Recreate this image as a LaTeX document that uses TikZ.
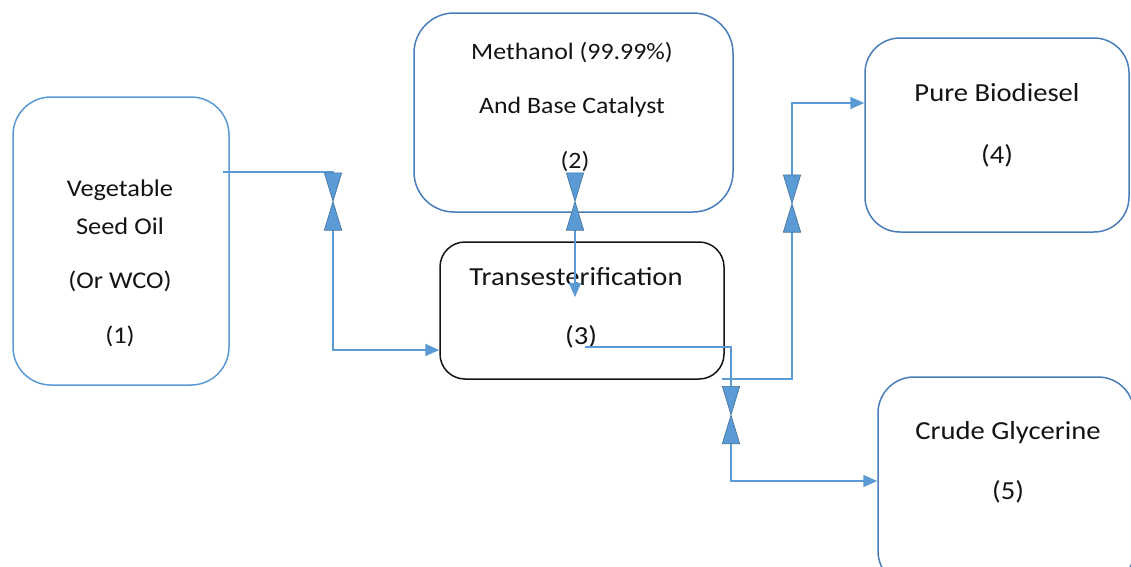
\documentclass[tikz,border=0pt]{standalone}
\usepackage{fontspec}
\setmainfont{Carlito}[FakeStretch=1.1]
\usetikzlibrary{arrows.meta}
\definecolor{pipeblue}{HTML}{5B9BD5}
\definecolor{boxblue}{HTML}{4A7EBB}
\definecolor{feedblue}{HTML}{5B9BD5}
\definecolor{valvefill}{HTML}{5B9BD5}
\definecolor{valveedge}{HTML}{41719C}
\definecolor{ink}{HTML}{141414}
\tikzset{
  unit/.style={draw=boxblue, line width=1.5pt, fill=white, inner sep=0pt},
  pipe/.style={draw=pipeblue, line width=1.5pt},
  flow/.style={pipe, -{Triangle[length=14pt,width=12pt]}},
  valvebox/.style={rectangle, inner sep=0pt, minimum width=17pt, minimum height=57pt},
  valve/.style={fill=valvefill, draw=valveedge, line width=0.6pt, line join=miter},
  lbl/.style={text=ink, inner sep=0pt},
  small/.style={lbl, font=\fontsize{24}{28}\selectfont},
  mid/.style={lbl, font=\fontsize{23.5}{28}\selectfont},
  large/.style={lbl, font=\fontsize{26}{30}\selectfont},
}
\begin{document}
\begin{tikzpicture}[x=1pt,y=-1pt]
\clip (0,0) rectangle (1131,566);
\fill[white] (0,0) rectangle (1131,566);

% process units
\node[unit, draw=feedblue, rounded corners=38pt, minimum width=216pt, minimum height=288pt] (b1) at (121,241) {};
\node[unit, rounded corners=40pt, minimum width=319pt, minimum height=199pt] (b2) at (573.5,112.5) {};
\node[unit, draw=ink, rounded corners=25pt, minimum width=284pt, minimum height=137pt] (b3) at (582,310.5) {};
\node[unit, rounded corners=35pt, minimum width=264pt, minimum height=194pt] (b4) at (997,135) {};
\node[unit, rounded corners=36pt, minimum width=256pt, minimum height=210pt] (b5) at (1006,482) {};

% labels
\node[small] (t1a) at (120,190) {Vegetable};
\node[small] (t1b) at (120,226) {Seed Oil};
\node[small] (t1c) at (120,281) {(Or WCO)};
\node[small] (t1d) at (120,336) {(1)};
\node[mid] (t2a) at (572,53) {Methanol (99.99\%)};
\node[mid] (t2b) at (572,107) {And Base Catalyst};
\node[mid] (t2c) at (575,162) {(2)};
\node[large] (t3a) at (576,277) {Transesterification};
\node[large] (t3b) at (581,337) {(3)};
\node[large] (t4a) at (997,93) {Pure Biodiesel};
\node[large] (t4b) at (997,156) {(4)};
\node[large] (t5a) at (1008,433) {Crude Glycerine};
\node[large] (t5b) at (1008,492) {(5)};

% valves
\node[valvebox] (v1) at (333,201.5) {};
\node[valvebox] (v2) at (575,201.5) {};
\node[valvebox] (v3) at (792,203.5) {};
\node[valvebox] (v4) at (731,415) {};

% pipe ends
\coordinate (s1) at (223,172);
\coordinate (s3) at (585,347);
\coordinate (s4) at (722,379);

% piping
\draw[pipe] (s1) -| (v1.north);
\draw[flow] (v1.south) |- (b3.west |- 0,350);
\draw[flow] (v2.south) -- (v2.south |- 0,297);
\draw[pipe] (s4) -| (v3.south);
\draw[flow] (v3.north) |- (b4.west |- 0,103);
\draw[pipe] (s3) -| (v4.north);
\draw[flow] (v4.south) |- (b5.west |- 0,481);

% valve bodies
\foreach \v in {v1,v2,v3,v4}
  \draw[valve] (\v.north west) -- (\v.north east) -- (\v.south west) -- (\v.south east) -- cycle;
\end{tikzpicture}
\end{document}
